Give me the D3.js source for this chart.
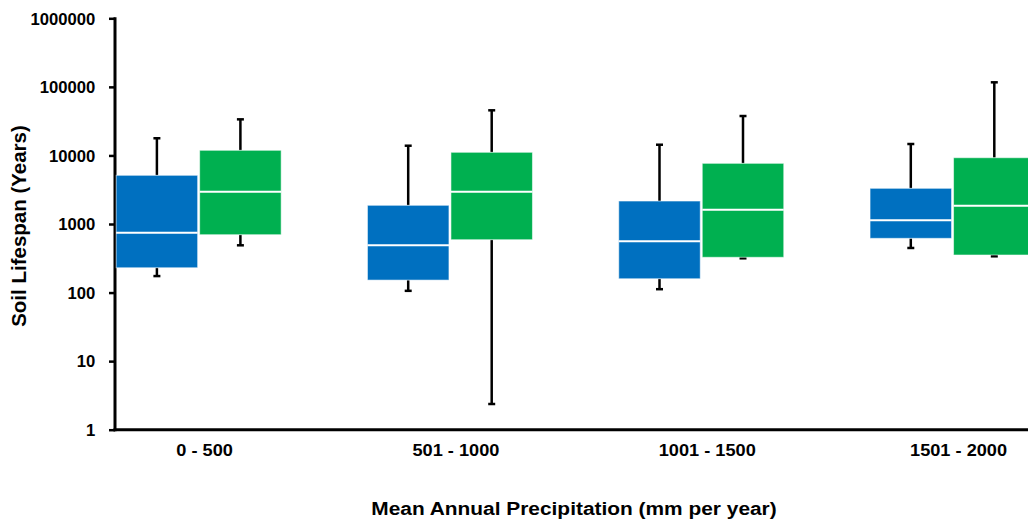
<!DOCTYPE html>
<html>
  <head>
    <meta charset="utf-8" />
    <script src="https://cdn.jsdelivr.net/npm/d3@7"></script>
    <style>
    body { margin: 0; background: #ffffff; }
    svg { display: block; }
    .tick text { font-family: "Liberation Sans", Arial, sans-serif; font-weight: bold; font-size: 16px; fill: #000; }
    .cat { font-family: "Liberation Sans", Arial, sans-serif; font-weight: bold; font-size: 17px; fill: #000; }
    .title { font-family: "Liberation Sans", Arial, sans-serif; font-weight: bold; fill: #000; }
    </style>
  </head>
  <body>
    <div id="chart"></div>

    <script type="text/javascript">
var w = 1028, h = 520;

// precipitation classes
var categories = ["0 - 500", "501 - 1000", "1001 - 1500", "1501 - 2000"];
var series = ["blue", "green"];
var colors = ["#0070C0", "#00B050"];

// blue boxes
var blueMin = [174, 106, 112, 447];
var blueQ1 = [230, 152, 159, 618];
var blueMedian = [746, 489, 559, 1132];
var blueQ3 = [5130, 1874, 2163, 3315];
var blueMax = [17800, 13860, 14330, 14680];

// green boxes
var greenMin = [489, 2.37, 316, 338];
var greenQ1 = [698, 590, 327, 353];
var greenMedian = [2958, 2958, 1616, 1848];
var greenQ3 = [11880, 11110, 7670, 9260];
var greenMax = [33600, 45500, 37570, 116500];

var yTicks = [1, 10, 100, 1000, 10000, 100000, 1000000];

var boxes = [];
categories.forEach(function(c, i) {
    boxes.push({ cat: c, s: "blue", min: blueMin[i], q1: blueQ1[i], med: blueMedian[i], q3: blueQ3[i], max: blueMax[i] });
    boxes.push({ cat: c, s: "green", min: greenMin[i], q1: greenQ1[i], med: greenMedian[i], q3: greenQ3[i], max: greenMax[i] });
});

var svg = d3.select("#chart").append("svg")
    .attr("width", w).attr("height", h);

var axisX = 115, axisY = 429.7;

var y = d3.scaleLog().domain([1, 1000000]).range([axisY, 18.3]);
var x = d3.scaleBand().domain(categories).range([73, 1078.2]);
var xs = d3.scaleBand().domain(series).range([-82.5, 82.5]).paddingInner(0.024);
var color = d3.scaleOrdinal().domain(series).range(colors);

// y axis
var yAxis = svg.append("g")
    .attr("transform", "translate(" + axisX + ",0)")
    .call(d3.axisLeft(y).tickValues(yTicks).tickFormat(d3.format("d")).tickSize(6).tickPadding(10));
yAxis.select(".domain").remove();
yAxis.selectAll(".tick line").attr("stroke", "#000").attr("stroke-width", 2.5);
yAxis.selectAll(".tick text").attr("x", -19).attr("dy", "0.36em")
    .attr("transform", "scale(1.04,1)");

svg.append("line")
    .attr("x1", axisX).attr("x2", axisX)
    .attr("y1", y(1000000) - 1).attr("y2", axisY + 1.5)
    .attr("stroke", "#000").attr("stroke-width", 3);

// boxes
var g = svg.selectAll("g.box").data(boxes).enter().append("g")
    .attr("class", "box")
    .attr("transform", function(d) {
        return "translate(" + (x(d.cat) + x.bandwidth() / 2 + xs(d.s)) + ",0)";
    });

var bw = xs.bandwidth();

g.append("line")
    .attr("x1", bw / 2).attr("x2", bw / 2)
    .attr("y1", function(d) { return y(d.q3); })
    .attr("y2", function(d) { return y(d.max); })
    .attr("stroke", "#000").attr("stroke-width", 2.5);
g.append("line")
    .attr("x1", bw / 2).attr("x2", bw / 2)
    .attr("y1", function(d) { return y(d.q1); })
    .attr("y2", function(d) { return y(d.min); })
    .attr("stroke", "#000").attr("stroke-width", 2.5);
g.append("line")
    .attr("x1", bw / 2 - 3.5).attr("x2", bw / 2 + 3.5)
    .attr("y1", function(d) { return y(d.max); })
    .attr("y2", function(d) { return y(d.max); })
    .attr("stroke", "#000").attr("stroke-width", 2.5);
g.append("line")
    .attr("x1", bw / 2 - 3.5).attr("x2", bw / 2 + 3.5)
    .attr("y1", function(d) { return y(d.min); })
    .attr("y2", function(d) { return y(d.min); })
    .attr("stroke", "#000").attr("stroke-width", 2.5);

g.append("rect")
    .attr("x", 0).attr("width", bw)
    .attr("y", function(d) { return y(d.q3); })
    .attr("height", function(d) { return y(d.q1) - y(d.q3); })
    .attr("fill", function(d) { return color(d.s); })
    .attr("stroke", "#ffffff").attr("stroke-opacity", 0.55).attr("stroke-width", 1);

g.append("line")
    .attr("x1", 0).attr("x2", bw)
    .attr("y1", function(d) { return y(d.med); })
    .attr("y2", function(d) { return y(d.med); })
    .attr("stroke", "#ffffff").attr("stroke-width", 2);

// x axis
svg.append("line")
    .attr("x1", axisX - 1.5).attr("x2", w)
    .attr("y1", axisY).attr("y2", axisY)
    .attr("stroke", "#000").attr("stroke-width", 3);

svg.selectAll("text.cat").data(categories).enter().append("text")
    .attr("class", "cat")
    .attr("text-anchor", "middle")
    .attr("transform", function(d) {
        return "translate(" + (x(d) + x.bandwidth() / 2 + 6) + ",456) scale(1.07,1)";
    })
    .text(function(d) { return d; });

// titles
svg.append("text")
    .attr("class", "title")
    .attr("text-anchor", "middle")
    .style("font-size", "18.5px")
    .attr("transform", "translate(574,515) scale(1.13,1)")
    .text("Mean Annual Precipitation (mm per year)");

svg.append("text")
    .attr("class", "title")
    .attr("text-anchor", "middle")
    .style("font-size", "20.5px")
    .attr("transform", "translate(25.5,226) rotate(-90)")
    .text("Soil Lifespan (Years)");
    </script>
  </body>
</html>
